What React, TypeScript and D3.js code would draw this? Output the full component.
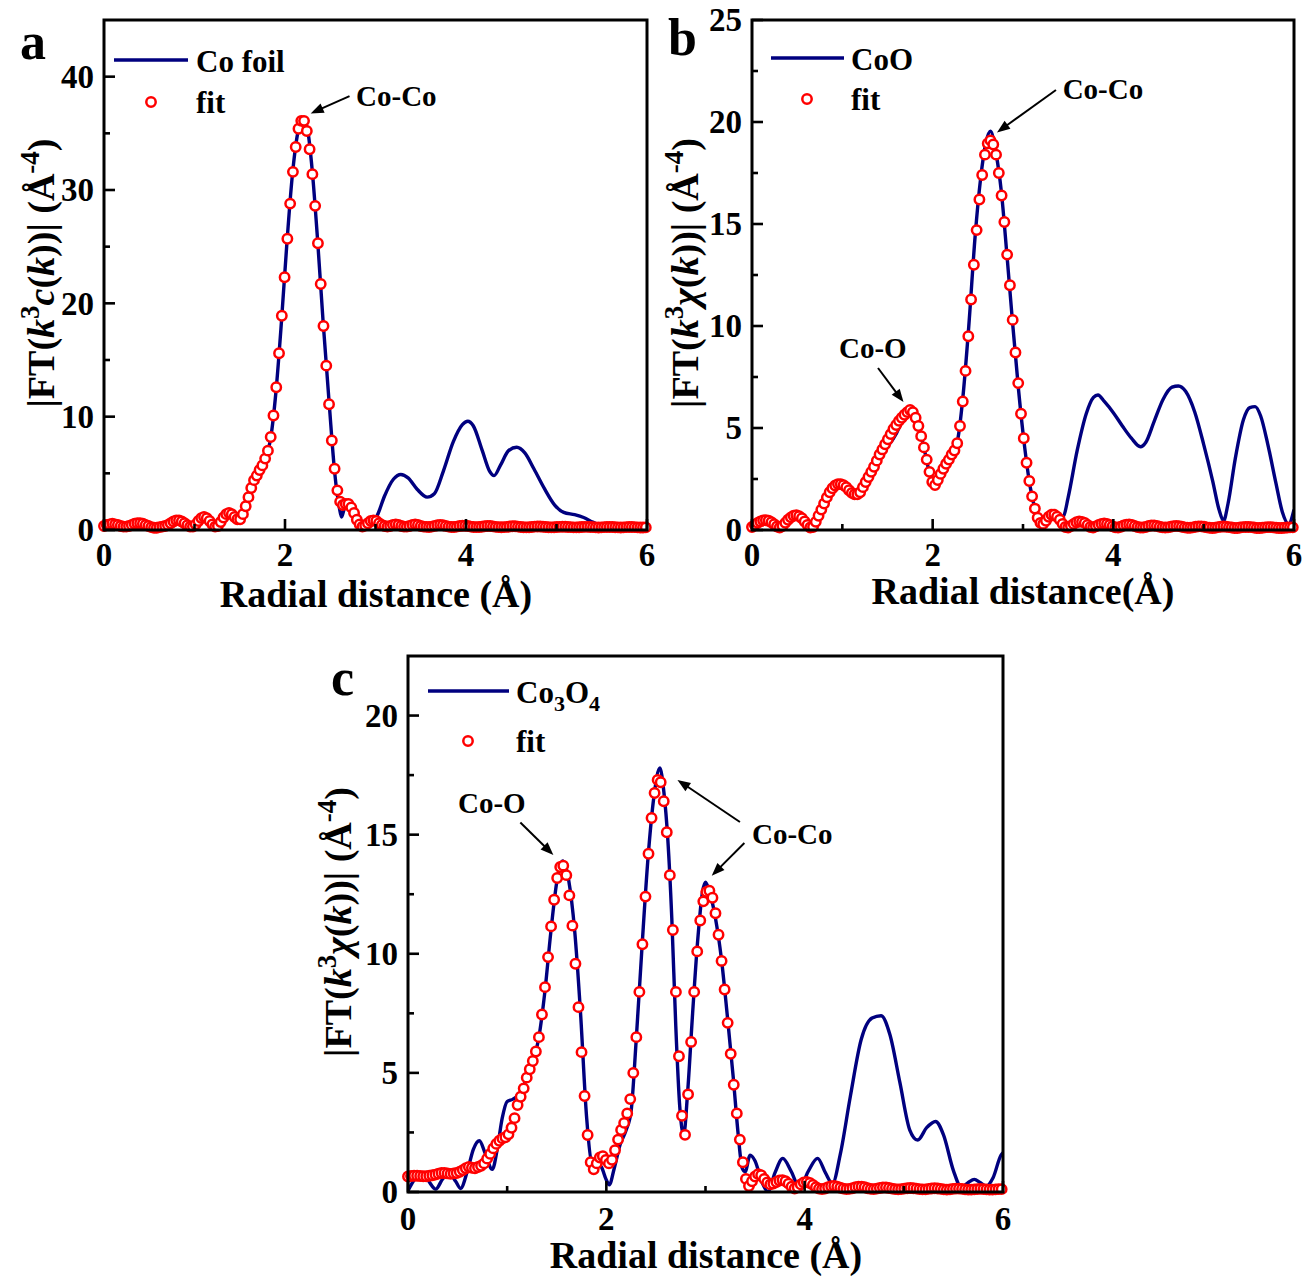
import React from "react";
import * as d3 from "d3";

// ---------- data ----------
const STEP = 0.0307; // R grid spacing of the fit points (Å)

const xTicks = [0, 2, 4, 6];
const xMinorTicks = [1, 3, 5];
const aYTicks = [0, 10, 20, 30, 40];
const aYMinor = [5, 15, 25, 35];
const bYTicks = [0, 5, 10, 15, 20, 25];
const bYMinor = [2.5, 7.5, 12.5, 17.5, 22.5];
const cYTicks = [0, 5, 10, 15, 20];
const cYMinor = [2.5, 7.5, 12.5, 17.5];

// Co foil experimental curve (R, |FT|)
const lineA: [number, number][] = [
  [0, 0.3], [0.12, 0.5], [0.3, 0.3], [0.44, 0.55], [0.6, 0.3], [0.78, 0.85], [0.96, 0.3],
  [1.1, 1.15], [1.23, 0.3], [1.38, 1.5], [1.49, 0.95], [1.56, 1.5], [1.62, 3.2], [1.67, 4.4],
  [1.72, 5.2], [1.78, 6.2], [1.84, 8.0], [1.9, 12.2], [1.96, 18.3], [2.02, 25.2], [2.08, 31.2],
  [2.14, 35.0], [2.2, 36.3], [2.25, 35.3], [2.3, 31.8], [2.36, 25.6], [2.42, 18.5], [2.49, 11.0],
  [2.55, 5.0], [2.6, 2.0], [2.625, 1.15], [2.66, 2.0], [2.72, 2.3], [2.78, 1.7], [2.84, 0.8],
  [2.9, 0.35], [2.96, 0.6], [3.02, 1.3], [3.1, 3.0], [3.2, 4.5], [3.28, 4.9], [3.36, 4.6],
  [3.46, 3.6], [3.57, 2.9], [3.65, 3.2], [3.75, 5.2], [3.86, 7.8], [3.96, 9.3], [4.02, 9.6],
  [4.08, 9.2], [4.18, 7.0], [4.26, 5.2], [4.31, 4.8], [4.38, 5.7], [4.47, 7.0], [4.56, 7.3],
  [4.65, 6.8], [4.75, 5.4], [4.87, 3.6], [4.98, 2.2], [5.08, 1.55], [5.2, 1.35], [5.3, 1.1],
  [5.4, 0.7], [5.5, 0.35], [5.6, 0.15], [5.7, 0.1], [6.0, 0.1],
];

const fitA = [
  0.35, 0.45, 0.5, 0.55, 0.5, 0.45, 0.35, 0.3, 0.3, 0.35,
  0.45, 0.55, 0.6, 0.6, 0.55, 0.45, 0.35, 0.25, 0.2, 0.2,
  0.25, 0.3, 0.35, 0.45, 0.6, 0.75, 0.85, 0.85, 0.75, 0.6,
  0.42, 0.3, 0.3, 0.5, 0.8, 1.05, 1.15, 1.05, 0.8, 0.5,
  0.3, 0.35, 0.7, 1.1, 1.4, 1.5, 1.4, 1.15, 0.95, 0.95,
  1.4, 2.1, 2.9, 3.7, 4.4, 4.8, 5.3, 5.7, 6.3, 7.0,
  8.2, 10.1, 12.6, 15.6, 18.9, 22.3, 25.7, 28.8, 31.6, 33.8,
  35.4, 36.1, 36.1, 35.2, 33.6, 31.4, 28.6, 25.3, 21.7, 18.0,
  14.5, 11.1, 7.9, 5.4, 3.5, 2.5, 2.2, 2.3, 2.3, 2.0,
  1.5, 0.9, 0.5, 0.3, 0.4, 0.6, 0.8, 0.85, 0.8, 0.6,
  0.45, 0.35, 0.3, 0.35, 0.45, 0.5, 0.45, 0.35, 0.3, 0.3,
  0.35, 0.45, 0.5, 0.45, 0.35, 0.3, 0.28, 0.27, 0.3, 0.36,
  0.42, 0.44, 0.42, 0.36, 0.3, 0.27, 0.27, 0.3, 0.35, 0.38,
  0.38, 0.35, 0.3, 0.27, 0.25, 0.26, 0.29, 0.33, 0.35, 0.35,
  0.32, 0.28, 0.25, 0.24, 0.25, 0.28, 0.31, 0.33, 0.33, 0.3,
  0.27, 0.24, 0.23, 0.24, 0.27, 0.3, 0.31, 0.31, 0.29, 0.26,
  0.24, 0.23, 0.24, 0.26, 0.28, 0.29, 0.29, 0.27, 0.25, 0.23,
  0.23, 0.24, 0.26, 0.28, 0.28, 0.27, 0.25, 0.23, 0.22, 0.23,
  0.25, 0.27, 0.27, 0.26, 0.24, 0.23, 0.22, 0.23, 0.25, 0.26,
  0.26, 0.25, 0.23, 0.22, 0.22, 0.23,
];

// CoO experimental curve
const lineB: [number, number][] = [
  [0, 0.15], [0.15, 0.48], [0.3, 0.12], [0.49, 0.72], [0.65, 0.12], [0.75, 0.85], [0.86, 1.85],
  [0.97, 2.25], [1.06, 2.0], [1.16, 1.72], [1.25, 2.25], [1.35, 3.0], [1.45, 3.85], [1.52, 4.2],
  [1.6, 4.75], [1.68, 5.5], [1.75, 5.9], [1.82, 5.4], [1.9, 4.1], [1.96, 2.9], [2.02, 2.2],
  [2.1, 2.8], [2.18, 3.4], [2.24, 3.9], [2.28, 4.5], [2.33, 6.3], [2.4, 10.0], [2.47, 14.4],
  [2.53, 17.2], [2.59, 19.0], [2.64, 19.55], [2.7, 18.5], [2.76, 16.6], [2.82, 13.6], [2.88, 10.4],
  [2.95, 6.9], [3.02, 4.0], [3.08, 2.1], [3.14, 0.9], [3.2, 0.1], [3.26, 0.35], [3.33, 0.75],
  [3.4, 0.6], [3.45, 0.7], [3.5, 1.6], [3.6, 3.9], [3.7, 5.7], [3.78, 6.5], [3.83, 6.62],
  [3.9, 6.3], [4.0, 5.75], [4.1, 5.1], [4.2, 4.5], [4.3, 4.08], [4.36, 4.3], [4.45, 5.3],
  [4.55, 6.4], [4.65, 7.0], [4.72, 7.06], [4.8, 6.8], [4.9, 5.8], [5.0, 4.2], [5.1, 2.4],
  [5.17, 1.0], [5.22, 0.45], [5.27, 1.3], [5.35, 3.5], [5.44, 5.4], [5.51, 6.0], [5.57, 6.05],
  [5.63, 5.6], [5.71, 4.2], [5.8, 2.3], [5.87, 0.9], [5.94, 0.3], [6.0, 1.0],
];

const fitB = [
  0.15, 0.25, 0.35, 0.42, 0.47, 0.48, 0.45, 0.38, 0.28, 0.17,
  0.12, 0.2, 0.35, 0.5, 0.62, 0.7, 0.72, 0.68, 0.58, 0.42,
  0.25, 0.12, 0.15, 0.4, 0.7, 1.0, 1.3, 1.6, 1.85, 2.05,
  2.18, 2.25, 2.25, 2.2, 2.1, 1.95, 1.82, 1.75, 1.75, 1.85,
  2.1, 2.35, 2.6, 2.85, 3.1, 3.4, 3.7, 3.95, 4.2, 4.45,
  4.7, 4.95, 5.15, 5.35, 5.5, 5.65, 5.78, 5.88, 5.78, 5.5,
  5.1, 4.6, 4.05, 3.45, 2.85, 2.35, 2.2, 2.45, 2.75, 3.0,
  3.25, 3.45, 3.7, 3.9, 4.25, 5.1, 6.3, 7.8, 9.5, 11.3,
  13.0, 14.7, 16.2, 17.4, 18.4, 18.95, 19.1, 18.9, 18.4, 17.5,
  16.4, 15.1, 13.5, 12.0, 10.3, 8.7, 7.2, 5.7, 4.5, 3.3,
  2.4, 1.65, 1.05, 0.6, 0.35, 0.3, 0.45, 0.65, 0.75, 0.75,
  0.65, 0.5, 0.3, 0.15, 0.12, 0.2, 0.3, 0.38, 0.42, 0.4,
  0.35, 0.25, 0.15, 0.12, 0.18, 0.25, 0.3, 0.32, 0.3, 0.25,
  0.18, 0.13, 0.12, 0.16, 0.22, 0.26, 0.27, 0.25, 0.2, 0.15,
  0.12, 0.12, 0.15, 0.2, 0.22, 0.22, 0.2, 0.16, 0.13, 0.12,
  0.13, 0.16, 0.19, 0.2, 0.19, 0.16, 0.13, 0.11, 0.11, 0.13,
  0.16, 0.18, 0.18, 0.16, 0.13, 0.11, 0.1, 0.11, 0.14, 0.16,
  0.17, 0.16, 0.14, 0.12, 0.1, 0.1, 0.12, 0.14, 0.15, 0.15,
  0.14, 0.12, 0.1, 0.1, 0.11, 0.13, 0.14, 0.14, 0.13, 0.11,
  0.1, 0.1, 0.11, 0.12, 0.13, 0.13,
];

// Co3O4 experimental curve
const lineC: [number, number][] = [
  [0, 0.05], [0.07, 0.55], [0.14, 0.75], [0.2, 0.5], [0.28, 0.12], [0.35, 0.55], [0.42, 0.75],
  [0.48, 0.45], [0.53, 0.15], [0.6, 0.9], [0.66, 1.8], [0.72, 2.15], [0.78, 1.6], [0.85, 0.95],
  [0.9, 1.8], [0.95, 3.1], [1.0, 3.8], [1.06, 3.9], [1.12, 4.1], [1.18, 4.6], [1.25, 5.3],
  [1.32, 6.5], [1.38, 8.4], [1.44, 10.9], [1.5, 13.0], [1.56, 13.9], [1.62, 13.1], [1.68, 11.0],
  [1.74, 7.5], [1.8, 3.2], [1.85, 1.3], [1.9, 1.2], [1.95, 1.05], [2.0, 0.5], [2.03, 0.3],
  [2.08, 1.0], [2.14, 2.0], [2.2, 2.6], [2.25, 3.4], [2.3, 6.3], [2.36, 10.3], [2.42, 14.0],
  [2.48, 16.6], [2.54, 17.8], [2.58, 16.8], [2.62, 14.8], [2.66, 11.5], [2.7, 7.0], [2.74, 3.6],
  [2.78, 2.4], [2.82, 4.2], [2.87, 7.5], [2.92, 10.5], [2.97, 12.6], [3.0, 13.0], [3.04, 12.6],
  [3.1, 11.5], [3.16, 9.8], [3.22, 7.4], [3.28, 4.8], [3.33, 2.4], [3.37, 1.0], [3.4, 0.85],
  [3.45, 1.55], [3.5, 1.3], [3.57, 0.4], [3.63, 0.02], [3.7, 0.8], [3.78, 1.41], [3.86, 0.9],
  [3.95, 0.2], [4.04, 0.9], [4.13, 1.41], [4.21, 0.8], [4.28, 0.35], [4.36, 1.6], [4.46, 4.0],
  [4.57, 6.4], [4.68, 7.3], [4.77, 7.4], [4.86, 6.6], [4.96, 4.6], [5.06, 2.6], [5.14, 2.18],
  [5.23, 2.7], [5.32, 2.96], [5.4, 2.4], [5.5, 0.9], [5.58, 0.2], [5.65, 0.4], [5.71, 0.53],
  [5.77, 0.4], [5.83, 0.25], [5.9, 0.6], [5.98, 1.55], [6.0, 1.65],
];

const fitC = [
  0.65, 0.67, 0.68, 0.68, 0.67, 0.66, 0.66, 0.68, 0.7, 0.73,
  0.77, 0.8, 0.8, 0.78, 0.76, 0.78, 0.8, 0.85, 0.92, 1.0,
  1.05, 1.02, 1.0, 1.05, 1.1, 1.2, 1.4, 1.6, 1.83, 2.02,
  2.15, 2.25, 2.3, 2.42, 2.7, 3.1, 3.65, 4.0, 4.35, 4.8,
  5.15, 5.5, 5.9, 6.5, 7.45, 8.6, 9.86, 11.15, 12.27, 13.18,
  13.64, 13.7, 13.3, 12.45, 11.18, 9.58, 7.76, 5.87, 4.03, 2.39,
  1.25, 0.95, 1.2, 1.45, 1.5, 1.35, 1.2, 1.35, 1.75, 2.2,
  2.6, 2.9, 3.3, 3.9, 5.0, 6.5, 8.4, 10.4, 12.4, 14.2,
  15.7, 16.75, 17.3, 17.2, 16.4, 15.1, 13.3, 11.0, 8.4, 5.7,
  3.2, 2.4, 4.1, 6.3, 8.4, 10.1, 11.4, 12.2, 12.6, 12.65,
  12.35, 11.7, 10.8, 9.7, 8.5, 7.1, 5.8, 4.5, 3.3, 2.2,
  1.25, 0.55, 0.25, 0.45, 0.65, 0.75, 0.7, 0.55, 0.4, 0.32,
  0.35, 0.42, 0.48, 0.5, 0.45, 0.35, 0.22, 0.15, 0.2, 0.32,
  0.4, 0.42, 0.38, 0.3, 0.2, 0.14, 0.12, 0.15, 0.2, 0.24,
  0.25, 0.22, 0.18, 0.14, 0.12, 0.13, 0.16, 0.2, 0.22, 0.22,
  0.2, 0.16, 0.13, 0.12, 0.14, 0.17, 0.19, 0.19, 0.17, 0.14,
  0.12, 0.11, 0.12, 0.14, 0.16, 0.17, 0.16, 0.14, 0.12, 0.11,
  0.11, 0.13, 0.15, 0.16, 0.15, 0.13, 0.11, 0.1, 0.11, 0.13,
  0.14, 0.14, 0.13, 0.11, 0.1, 0.1, 0.11, 0.12, 0.13, 0.12,
  0.11, 0.1, 0.1, 0.11, 0.12, 0.12,
];

// ---------- style ----------
const NAVY = "#00007f";
const RED = "#ff0000";
const FONT = "'Liberation Serif', 'Times New Roman', Times, serif";
const CIRCLE_R = 4.7;
const CIRCLE_W = 2.5;

type Ann = { text: string; tx: number; ty: number; arrows: [number, number, number, number][] };

type PanelCfg = {
  id: string;
  letter: string;
  letterX: number;
  letterY: number;
  left: number;
  right: number;
  top: number;
  bottom: number;
  yMax: number;
  yTicks: number[];
  yMinor: number[];
  line: [number, number][];
  fit: number[];
  legendName: "foil" | "CoO" | "Co3O4";
  legendLineY: number;
  legendLineX1: number;
  legendLineX2: number;
  legendTextX: number;
  legendFitY: number;
  legendFitX: number;
  yTitleX: number;
  yTitleY: number;
  yTitleKind: "c" | "chi";
  xTitle: string;
  xTitleX: number;
  xTitleY: number;
  xLabelY: number;
  ann: Ann[];
};

const panels: PanelCfg[] = [
  {
    id: "a", letter: "a", letterX: 20, letterY: 59,
    left: 104, right: 647, top: 20, bottom: 530, yMax: 45,
    yTicks: aYTicks, yMinor: aYMinor, line: lineA, fit: fitA,
    legendName: "foil", legendLineY: 60, legendLineX1: 114, legendLineX2: 188, legendTextX: 196,
    legendFitY: 102, legendFitX: 151,
    yTitleX: 54, yTitleY: 273, yTitleKind: "c",
    xTitle: "Radial distance (Å)", xTitleX: 376, xTitleY: 607, xLabelY: 566,
    ann: [{ text: "Co-Co", tx: 2.785, ty: 37.4, arrows: [[2.713, 38.29, 2.284, 36.76]] }],
  },
  {
    id: "b", letter: "b", letterX: 668, letterY: 55,
    left: 752, right: 1294, top: 20, bottom: 530, yMax: 25,
    yTicks: bYTicks, yMinor: bYMinor, line: lineB, fit: fitB,
    legendName: "CoO", legendLineY: 58, legendLineX1: 771, legendLineX2: 844, legendTextX: 851,
    legendFitY: 99, legendFitX: 807,
    yTitleX: 698, yTitleY: 273, yTitleKind: "chi",
    xTitle: "Radial distance(Å)", xTitleX: 1023, xTitleY: 604, xLabelY: 566,
    ann: [
      { text: "Co-Co", tx: 3.439, ty: 21.14, arrows: [[3.365, 21.57, 2.712, 19.49]] },
      { text: "Co-O", tx: 0.963, ty: 8.45, arrows: [[1.395, 7.94, 1.677, 6.27]] },
    ],
  },
  {
    id: "c", letter: "c", letterX: 331, letterY: 695,
    left: 408, right: 1003, top: 656, bottom: 1192, yMax: 22.5,
    yTicks: cYTicks, yMinor: cYMinor, line: lineC, fit: fitC,
    legendName: "Co3O4", legendLineY: 691, legendLineX1: 428, legendLineX2: 509, legendTextX: 516,
    legendFitY: 741, legendFitX: 468,
    yTitleX: 351, yTitleY: 922, yTitleKind: "chi",
    xTitle: "Radial distance (Å)", xTitleX: 706, xTitleY: 1268, xLabelY: 1230,
    ann: [
      { text: "Co-O", tx: 0.504, ty: 15.93, arrows: [[1.133, 15.51, 1.466, 14.15]] },
      {
        text: "Co-Co", tx: 3.469, ty: 14.62,
        arrows: [[3.347, 15.53, 2.717, 17.3], [3.392, 14.65, 3.063, 13.28]],
      },
    ],
  },
];

function Arrow({ x1, y1, x2, y2 }: { x1: number; y1: number; x2: number; y2: number }) {
  const dx = x2 - x1;
  const dy = y2 - y1;
  const len = Math.sqrt(dx * dx + dy * dy);
  const ux = dx / len;
  const uy = dy / len;
  const hl = 13;
  const hw = 5;
  const bx = x2 - ux * hl;
  const by = y2 - uy * hl;
  const pts = [
    [x2, y2],
    [bx - uy * hw, by + ux * hw],
    [bx + uy * hw, by - ux * hw],
  ]
    .map((p) => p.join(","))
    .join(" ");
  return (
    <g>
      <line x1={x1} y1={y1} x2={bx + ux * 2} y2={by + uy * 2} stroke="#000" strokeWidth={2} />
      <polygon points={pts} fill="#000" />
    </g>
  );
}

function YTitle({ p }: { p: PanelCfg }) {
  const sup = -15;
  return (
    <text
      transform={`translate(${p.yTitleX},${p.yTitleY}) rotate(-90)`}
      textAnchor="middle"
      fontFamily={FONT}
      fontWeight="bold"
      fontSize={38}
      fill="#000"
    >
      <tspan>{"|FT("}</tspan>
      <tspan fontStyle="italic">k</tspan>
      <tspan dy={sup} fontSize={27}>3</tspan>
      <tspan dy={-sup} fontStyle="italic">{p.yTitleKind === "c" ? "c" : "χ"}</tspan>
      <tspan>(</tspan>
      <tspan fontStyle="italic">k</tspan>
      <tspan>{"))| (Å"}</tspan>
      <tspan dy={sup} fontSize={27}>-4</tspan>
      <tspan dy={-sup}>)</tspan>
    </text>
  );
}

function Panel({ p }: { p: PanelCfg }) {
  const x = d3.scaleLinear().domain([0, 6]).range([p.left, p.right]);
  const y = d3.scaleLinear().domain([0, p.yMax]).range([p.bottom, p.top]);
  const lineGen = d3
    .line<[number, number]>()
    .x((d) => x(d[0]))
    .y((d) => y(d[1]))
    .curve(d3.curveMonotoneX);
  const clipId = `clip-${p.id}`;
  const majorLen = 11;
  const minorLen = 6;
  const tickW = 2.6;
  return (
    <g>
      <defs>
        <clipPath id={clipId}>
          <rect x={p.left} y={p.top} width={p.right - p.left} height={p.bottom - p.top} />
        </clipPath>
      </defs>
      <g clipPath={`url(#${clipId})`}>
        <path d={lineGen(p.line) || ""} fill="none" stroke={NAVY} strokeWidth={3.4} strokeLinejoin="round" />
      </g>
      {p.fit.map((v, i) => (
        <circle key={i} cx={x(i * STEP)} cy={y(v)} r={CIRCLE_R} fill="#fff" stroke={RED} strokeWidth={CIRCLE_W} />
      ))}
      {/* ticks */}
      {p.yTicks.map((t) => (
        <line key={`ym${t}`} x1={p.left} x2={p.left + majorLen} y1={y(t)} y2={y(t)} stroke="#000" strokeWidth={tickW} />
      ))}
      {p.yMinor.map((t) => (
        <line key={`yn${t}`} x1={p.left} x2={p.left + minorLen} y1={y(t)} y2={y(t)} stroke="#000" strokeWidth={tickW} />
      ))}
      {xTicks.map((t) => (
        <line key={`xm${t}`} x1={x(t)} x2={x(t)} y1={p.bottom} y2={p.bottom - majorLen} stroke="#000" strokeWidth={tickW} />
      ))}
      {xMinorTicks.map((t) => (
        <line key={`xn${t}`} x1={x(t)} x2={x(t)} y1={p.bottom} y2={p.bottom - minorLen} stroke="#000" strokeWidth={tickW} />
      ))}
      <rect
        x={p.left}
        y={p.top}
        width={p.right - p.left}
        height={p.bottom - p.top}
        fill="none"
        stroke="#000"
        strokeWidth={3}
      />
      {/* tick labels */}
      <g fontFamily={FONT} fontWeight="bold" fontSize={33} fill="#000">
        {p.yTicks.map((t) => (
          <text key={`yl${t}`} x={p.left - 10} y={y(t)} dy="0.34em" textAnchor="end">
            {t}
          </text>
        ))}
        {xTicks.map((t) => (
          <text key={`xl${t}`} x={x(t)} y={p.xLabelY} textAnchor="middle">
            {t}
          </text>
        ))}
      </g>
      {/* axis titles */}
      <text x={p.xTitleX} y={p.xTitleY} textAnchor="middle" fontFamily={FONT} fontWeight="bold" fontSize={38}>
        {p.xTitle}
      </text>
      <YTitle p={p} />
      {/* panel letter */}
      <text x={p.letterX} y={p.letterY} fontFamily={FONT} fontWeight="bold" fontSize={52}>
        {p.letter}
      </text>
      {/* legend */}
      <line x1={p.legendLineX1} x2={p.legendLineX2} y1={p.legendLineY} y2={p.legendLineY} stroke={NAVY} strokeWidth={3.4} />
      <text x={p.legendTextX} y={p.legendLineY + 12} fontFamily={FONT} fontWeight="bold" fontSize={31}>
        {p.legendName === "foil" && "Co foil"}
        {p.legendName === "CoO" && "CoO"}
        {p.legendName === "Co3O4" && (
          <>
            <tspan>Co</tspan>
            <tspan dy={8} fontSize={22}>3</tspan>
            <tspan dy={-8}>O</tspan>
            <tspan dy={8} fontSize={22}>4</tspan>
          </>
        )}
      </text>
      <circle cx={p.legendFitX} cy={p.legendFitY} r={CIRCLE_R} fill="#fff" stroke={RED} strokeWidth={CIRCLE_W} />
      <text x={p.legendTextX} y={p.legendFitY + 11} fontFamily={FONT} fontWeight="bold" fontSize={31}>
        fit
      </text>
      {/* annotations */}
      {p.ann.map((a, k) => (
        <g key={k}>
          <text x={x(a.tx)} y={y(a.ty)} fontFamily={FONT} fontWeight="bold" fontSize={29}>
            {a.text}
          </text>
          {a.arrows.map((ar, j) => (
            <Arrow key={j} x1={x(ar[0])} y1={y(ar[1])} x2={x(ar[2])} y2={y(ar[3])} />
          ))}
        </g>
      ))}
    </g>
  );
}

export default function App() {
  return (
    <svg
      width={1307}
      height={1279}
      viewBox="0 0 1307 1279"
      style={{ position: "absolute", left: 0, top: 0, display: "block", background: "#fff" }}
    >
      <rect x={0} y={0} width={1307} height={1279} fill="#fff" />
      {panels.map((p) => (
        <Panel key={p.id} p={p} />
      ))}
    </svg>
  );
}
